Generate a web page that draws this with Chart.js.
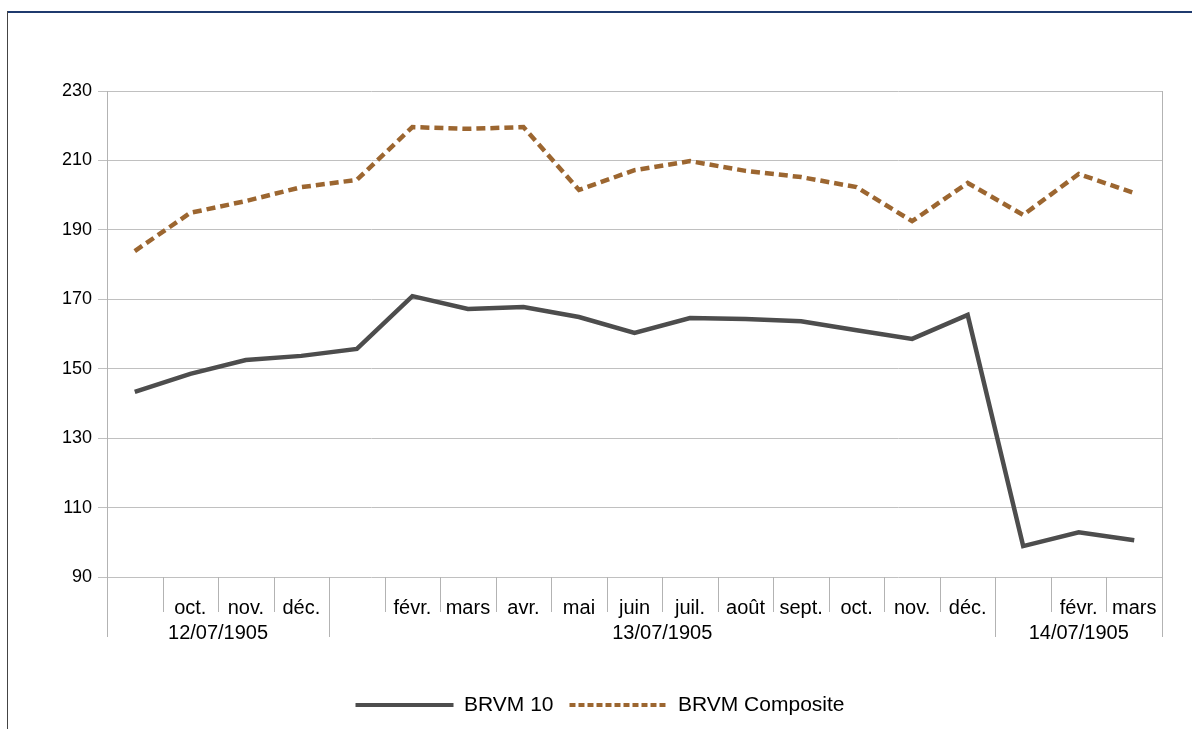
<!DOCTYPE html>
<html>
<head>
<meta charset="utf-8">
<script src="https://cdn.jsdelivr.net/npm/chart.js@4"></script>
<style>
  html, body { margin: 0; padding: 0; background: #fff; }
  #wrap { width: 1192px; height: 729px; }
</style>
</head>
<body>
<div id="wrap"><canvas id="chart-1" width="1192" height="729"></canvas></div>
<script>
// categories (months) and their year groups
const months = ["", "oct.", "nov.", "déc.", "", "févr.", "mars", "avr.", "mai", "juin",
  "juil.", "août", "sept.", "oct.", "nov.", "déc.", "", "févr.", "mars"];
const groupLabels = ["12/07/1905", "13/07/1905", "14/07/1905"];
const groupSizes = [4, 12, 3];

// series values
const brvm10 = [143.3, 148.5, 152.5, 153.7, 155.7, 170.9, 167.2, 167.8, 164.9, 160.3,
  164.6, 164.3, 163.7, 161.1, 158.6, 165.5, 98.9, 102.9, 100.6];
const brvmComposite = [183.9, 194.9, 198.3, 202.3, 204.4, 219.6, 219.1, 219.6, 201.5, 207.2,
  209.8, 207.0, 205.2, 202.3, 192.5, 203.5, 194.3, 206.1, 200.6];

// y axis ticks
const yMin = 90, yMax = 230, yStep = 20;

const FONT = "'Liberation Sans', Arial, sans-serif";
const lineGray = "#b3b3b3";

// frame + group axis below the category labels
const framePlugin = {
  id: "frame",
  beforeDraw(chart) {
    const c = chart.ctx;
    c.save();
    c.fillStyle = "#fff";
    c.fillRect(0, 0, chart.width, chart.height);
    c.fillStyle = "#1f3a6e";
    c.fillRect(7, 11, chart.width - 7, 2);
    c.fillStyle = "#444";
    c.fillRect(7, 11, 1, chart.height - 11);
    c.restore();
  },
  afterDraw(chart) {
    const c = chart.ctx;
    const x = chart.scales.x;
    const area = chart.chartArea;
    const step = x.getPixelForValue(1) - x.getPixelForValue(0);
    c.save();
    c.strokeStyle = lineGray;
    c.lineWidth = 1;
    // plot right border and left axis extension
    c.beginPath();
    c.moveTo(Math.round(area.right) + 0.5, area.top);
    c.lineTo(Math.round(area.right) + 0.5, 637);
    c.moveTo(Math.round(area.left) + 0.5, area.bottom);
    c.lineTo(Math.round(area.left) + 0.5, 637);
    c.stroke();
    // category separators, longer at group boundaries
    const bounds = [0];
    groupSizes.forEach(n => bounds.push(bounds[bounds.length - 1] + n));
    for (let i = 1; i < months.length; i++) {
      const px = Math.round(x.getPixelForValue(i) - step / 2) + 0.5;
      const long = bounds.includes(i);
      c.beginPath();
      c.moveTo(px, area.bottom);
      c.lineTo(px, long ? 637 : 612);
      c.stroke();
    }
    c.fillStyle = "#000";
    c.font = "20px " + FONT;
    c.textAlign = "center";
    c.textBaseline = "alphabetic";
    groupLabels.forEach((g, k) => {
      const x0 = k === 0 ? area.left : x.getPixelForValue(bounds[k]) - step / 2;
      const x1 = k === groupLabels.length - 1 ? area.right : x.getPixelForValue(bounds[k + 1]) - step / 2;
      c.fillText(g, (x0 + x1) / 2, 639);
    });
    c.restore();
  }
};

const ctx1 = document.getElementById("chart-1").getContext("2d");
const myChart = new Chart(ctx1, {
  type: "line",
  data: {
    labels: months,
    datasets: [
      {
        label: "BRVM 10",
        data: brvm10,
        borderColor: "#4d4d4d",
        backgroundColor: "#4d4d4d",
        borderWidth: 4.5,
        pointRadius: 0,
        tension: 0,
      },
      {
        label: "BRVM Composite",
        data: brvmComposite,
        borderColor: "#9c6630",
        backgroundColor: "#9c6630",
        borderWidth: 4.5,
        borderDash: [9, 5],
        pointRadius: 0,
        tension: 0,
      },
    ],
  },
  options: {
    responsive: false,
    animation: false,
    layout: { padding: { top: 91, left: 38, right: 30, bottom: 3.5 } },
    plugins: {
      tooltip: { enabled: false },
      legend: {
        position: "bottom",
        labels: {
          usePointStyle: true,
          pointStyle: "line",
          pointStyleWidth: 98,
          padding: 16,
          color: "#000",
          font: { family: FONT, size: 21 },
          generateLabels(chart) {
            const items = Chart.defaults.plugins.legend.labels.generateLabels(chart);
            items.forEach((it, i) => {
              it.lineWidth = 4;
              it.lineDash = i === 1 ? [6, 3] : [];
            });
            return items;
          },
        },
      },
    },
    scales: {
      x: {
        offset: true,
        grid: { display: false },
        border: { display: false },
        ticks: {
          autoSkip: false,
          maxRotation: 0,
          padding: 11,
          color: "#000",
          font: { family: FONT, size: 20 },
        },
        afterFit(scale) { scale.height = 101.5; },
      },
      y: {
        min: yMin,
        max: yMax,
        ticks: {
          stepSize: yStep,
          padding: 6,
          color: "#000",
          font: { family: FONT, size: 18 },
        },
        grid: { color: "#c0c0c0", tickLength: 9 },
        border: { color: lineGray },
        afterFit(scale) { scale.width = 69; },
      },
    },
  },
  plugins: [framePlugin],
});
</script>
</body>
</html>
